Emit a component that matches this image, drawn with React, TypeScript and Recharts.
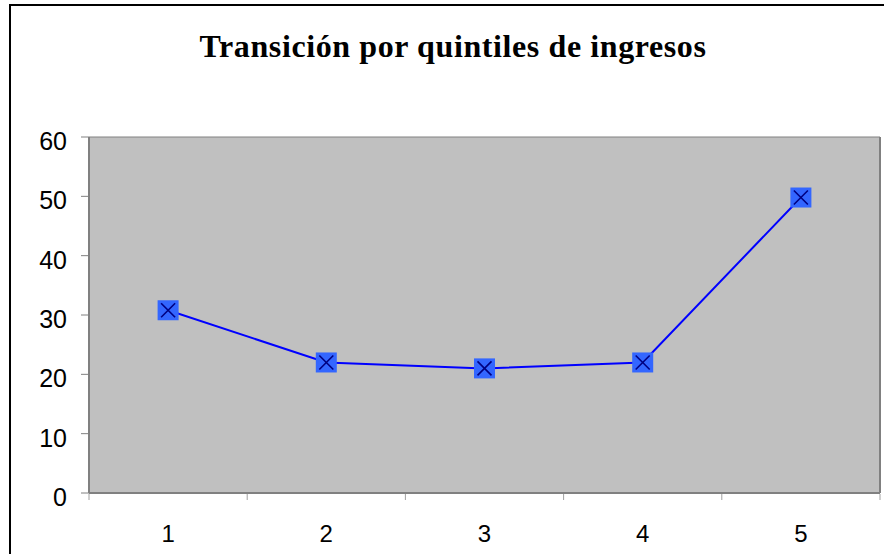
import { LineChart, Line, XAxis, YAxis, CartesianGrid } from "recharts";

const quintiles = [1, 2, 3, 4, 5];
const transicion = [30.8, 22, 21, 22, 49.8];
const yTicks = [0, 10, 20, 30, 40, 50, 60];
// band edges get a tick mark, integer ticks get the label
const xTicks = [0.5, 1, 1.5, 2, 2.5, 3, 3.5, 4, 4.5, 5, 5.5];

const data = quintiles.map((q, i) => ({ q, value: transicion[i] }));

const XTick = (props: any) => {
  const { x, y, payload } = props;
  const v = payload.value;
  if (Number.isInteger(v)) {
    return (
      <text
        x={x}
        y={y + 49}
        textAnchor="middle"
        fontSize={24}
        fontFamily="Liberation Sans, Arial, sans-serif"
        fill="#000"
      >
        {v}
      </text>
    );
  }
  return <line x1={x} y1={y + 1} x2={x} y2={y + 7} stroke="#a0a0a0" strokeWidth={1} />;
};

// blue square with an x, like the old Excel marker
const Marker = (props: any) => {
  const { cx, cy, index } = props;
  if (cx == null || cy == null) return null;
  return (
    <g key={`m-${index}`}>
      <rect x={cx - 10.5} y={cy - 10} width={21} height={20} fill="#3366ff" />
      <line x1={cx - 7} y1={cy - 7} x2={cx + 7} y2={cy + 7} stroke="#000080" strokeWidth={1.6} />
      <line x1={cx - 7} y1={cy + 7} x2={cx + 7} y2={cy - 7} stroke="#000080" strokeWidth={1.6} />
    </g>
  );
};

export default function App() {
  return (
    <div
      style={{
        position: "absolute",
        left: 0,
        top: 0,
        width: 884,
        height: 554,
        overflow: "hidden",
        background: "#fff",
      }}
    >
      {/* chart frame, cut off at right/bottom like the screenshot */}
      <div
        style={{
          position: "absolute",
          left: 9,
          top: 4,
          width: 1000,
          height: 1000,
          border: "2px solid #000",
        }}
      />
      <svg style={{ position: "absolute", left: 0, top: 0 }} width={884} height={100}>
        <text
          x={453}
          y={57}
          textAnchor="middle"
          fontFamily="Liberation Serif, Times New Roman, serif"
          fontWeight="bold"
          fontSize={32}
          letterSpacing={0.6}
          fill="#000"
        >
          Transición por quintiles de ingresos
        </text>
      </svg>
      <div style={{ position: "absolute", left: 0, top: 0 }}>
        <LineChart
          width={884}
          height={554}
          data={data}
          margin={{ top: 137, right: 0, bottom: 0, left: 0 }}
        >
          <CartesianGrid vertical={false} stroke="#808080" fill="#c0c0c0" />
          <XAxis
            dataKey="q"
            type="number"
            domain={[0.5, 5.5]}
            ticks={xTicks}
            interval={0}
            tickLine={false}
            tickSize={0}
            tickMargin={0}
            axisLine={{ stroke: "#808080", strokeWidth: 2 }}
            tick={<XTick />}
            height={61}
          />
          <YAxis
            yAxisId="left"
            domain={[0, 60]}
            ticks={yTicks}
            width={89}
            tickSize={8}
            tickMargin={14}
            tickLine={{ stroke: "#808080" }}
            axisLine={{ stroke: "#808080", strokeWidth: 2 }}
            tick={{
              fill: "#000",
              fontSize: 25,
              fontFamily: "Liberation Sans, Arial, sans-serif",
              dy: 4,
            }}
          />
          <YAxis
            yAxisId="right"
            orientation="right"
            domain={[0, 60]}
            width={4}
            tick={false}
            tickLine={false}
            axisLine={{ stroke: "#808080", strokeWidth: 2 }}
          />
          <Line
            yAxisId="left"
            type="linear"
            dataKey="value"
            stroke="#0000ff"
            strokeWidth={2}
            dot={<Marker />}
            activeDot={false}
            isAnimationActive={false}
          />
        </LineChart>
      </div>
    </div>
  );
}
